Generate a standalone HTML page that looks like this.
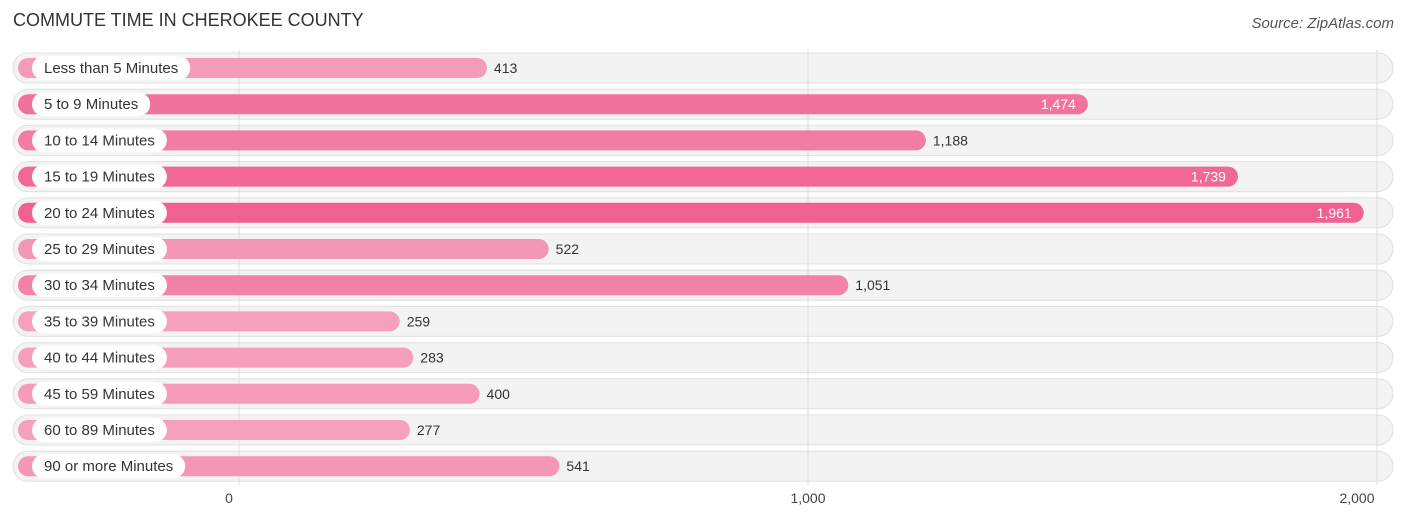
<!DOCTYPE html>
<html><head><meta charset="utf-8"><style>
body{margin:0;width:1406px;height:522px;background:#fff;font-family:"Liberation Sans",sans-serif;overflow:hidden;position:relative}
.t{position:absolute;left:13px;top:10px;font-size:18px;color:#333}
.s{position:absolute;right:12px;top:15px;font-size:15px;color:#555;font-style:italic}
</style></head><body>
<div class="t">COMMUTE TIME IN CHEROKEE COUNTY</div>
<div class="s">Source: ZipAtlas.com</div>
<svg id="c" width="1406" height="522" style="position:absolute;left:0;top:0"></svg>
<script>
const categories=["Less than 5 Minutes","5 to 9 Minutes","10 to 14 Minutes","15 to 19 Minutes","20 to 24 Minutes","25 to 29 Minutes","30 to 34 Minutes","35 to 39 Minutes","40 to 44 Minutes","45 to 59 Minutes","60 to 89 Minutes","90 or more Minutes"];
const values=[413,1474,1188,1739,1961,522,1051,259,283,400,277,541];
const tickValues=[0,1000,2000];
const tickLabels=["0","1,000","2,000"];
const NS="http://www.w3.org/2000/svg",svg=document.getElementById('c');
const gx=v=>239+v*0.569;
const bx=v=>253+v*0.5664;
const ry=i=>68+i*36.2;
const maxV=Math.max(...values);
function mk(t,a){const e=document.createElementNS(NS,t);for(const k in a)e.setAttribute(k,a[k]);svg.appendChild(e);return e;}
function col(v){const f=v/maxV;const a=[246,170,196],b=[240,96,144];return `rgb(${a.map((c,i)=>Math.round(c+(b[i]-c)*f)).join(',')})`;}
categories.forEach((c,i)=>{
 const y=ry(i);
 const bg=mk('rect',{x:13,y:y-15,width:1380,height:30,rx:15,fill:'#f3f3f3',stroke:'#e0e0e0'});
 
 
});
tickValues.forEach((t,i)=>{
 const l=mk('line',{x1:gx(t),x2:gx(t),y1:50,y2:485,stroke:'#ddd'});
 
 
 const tx=mk('text',{x:gx(t)+(i==0?-10:i==2?-20:0),y:503,'text-anchor':'middle','font-size':14,fill:'#444'});
 tx.textContent=tickLabels[i];
 
 
});
categories.forEach((c,i)=>{
 const y=ry(i),v=values[i],x1=bx(v);
 const b=mk('rect',{x:18,y:y-10,width:x1-18,height:20,rx:10,fill:col(v)});
 
 
 const lab=mk('text',{x:44,y:y+5,'font-size':15,fill:'#333'});
 lab.textContent=c;
 const w=lab.getComputedTextLength();
 const p=mk('rect',{x:32,y:y-12,width:w+24,height:24,rx:12,fill:'#fff'});
 
 
 svg.appendChild(lab);
 
 
 const inside=v>1400;
 const vt=mk('text',{x:inside?x1-12:x1+7,y:y+5,'font-size':14,fill:inside?'#fff':'#333','text-anchor':inside?'end':'start'});
 vt.textContent=v.toLocaleString('en-US');
 
 
});
</script>
</body></html>
